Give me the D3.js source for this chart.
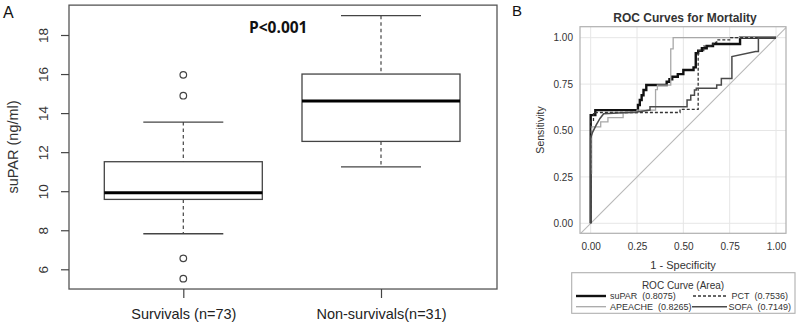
<!DOCTYPE html>
<html><head><meta charset="utf-8">
<script src="https://cdn.jsdelivr.net/npm/d3@7"></script>
<style>body{margin:0;background:#fff}svg{display:block}</style>
</head><body>
<svg id="c" width="800" height="329"></svg>
<script>
// ---------- Panel A data ----------
const groups = ["Survivals (n=73)", "Non-survivals(n=31)"];
const boxLow = [7.82, 11.25];
const boxQ1 = [9.58, 12.55];
const boxMed = [9.92, 14.62];
const boxQ3 = [11.51, 16.0];
const boxHigh = [13.54, 18.99];
const outliers = [[15.96, 14.89, 6.56, 5.52], []];
const yTicksA = [6, 8, 10, 12, 14, 16, 18];

// ---------- Panel B data ----------
const rocNames = ["suPAR", "PCT", "APEACHE", "SOFA"];
const rocAreas = ["(0.8075)", "(0.7536)", "(0.8265)", "(0.7149)"];
const suPAR = [[0,0],[0,0.583],[0.025,0.583],[0.025,0.61],[0.255,0.61],[0.255,0.637],[0.265,0.637],[0.265,0.664],[0.275,0.664],[0.275,0.69],[0.285,0.69],[0.285,0.718],[0.30,0.718],[0.30,0.745],[0.41,0.745],[0.41,0.763],[0.425,0.763],[0.425,0.776],[0.44,0.776],[0.44,0.79],[0.47,0.79],[0.47,0.804],[0.50,0.804],[0.50,0.826],[0.555,0.826],[0.555,0.84],[0.567,0.84],[0.567,0.916],[0.58,0.916],[0.58,0.93],[0.60,0.93],[0.60,0.943],[0.626,0.943],[0.626,0.955],[0.66,0.955],[0.66,0.966],[0.806,0.966],[0.806,1],[1,1]];
const PCT = [[0,0],[0,0.55],[0.015,0.55],[0.015,0.597],[0.482,0.597],[0.482,0.614],[0.58,0.614],[0.58,0.93],[0.61,0.93],[0.61,0.955],[0.66,0.955],[0.66,0.975],[0.68,0.975],[0.68,0.988],[0.75,0.988],[0.75,1],[1,1]];
const APEACHE = [[0,0],[0,0.27],[0.005,0.27],[0.005,0.52],[0.054,0.52],[0.054,0.547],[0.093,0.547],[0.093,0.569],[0.175,0.569],[0.175,0.595],[0.25,0.595],[0.25,0.61],[0.35,0.61],[0.35,0.72],[0.36,0.72],[0.36,0.745],[0.432,0.745],[0.432,0.94],[0.445,0.94],[0.445,1],[1,1]];
const SOFA = [[0,0],[0,0.46],[0.01,0.49],[0.03,0.53],[0.05,0.565],[0.07,0.59],[0.25,0.60],[0.32,0.61],[0.32,0.628],[0.52,0.628],[0.52,0.664],[0.54,0.664],[0.54,0.69],[0.56,0.69],[0.56,0.718],[0.57,0.718],[0.57,0.727],[0.68,0.727],[0.68,0.745],[0.705,0.745],[0.705,0.78],[0.762,0.78],[0.762,0.898],[0.89,0.925],[0.905,0.925],[0.905,1],[1,1]];
const rocTicks = [0, 0.25, 0.5, 0.75, 1];

const svg = d3.select("#c");
const FA = "'Liberation Sans', Arial, sans-serif";

// ================= Panel A =================
const xA = d3.scaleLinear().domain([1, 2]).range([183.3, 381]);
const yA = d3.scaleLinear().domain([6, 18]).range([269.3, 35]);
const frameA = {l: 69, r: 497, t: yA(19.53), b: yA(4.99)};
const gA = svg.append("g");
const dark = "#444";

gA.append("rect").attr("x", frameA.l).attr("y", frameA.t)
  .attr("width", frameA.r - frameA.l).attr("height", frameA.b - frameA.t)
  .attr("fill", "none").attr("stroke", "#555").attr("stroke-width", 1.3);

const axA = gA.append("g").attr("transform", `translate(${frameA.l},0)`)
  .call(d3.axisLeft(yA).tickValues(yTicksA).tickSize(8).tickFormat(d3.format("d")));
axA.select(".domain").remove();
axA.selectAll(".tick line").attr("stroke", dark).attr("stroke-width", 1.2);
axA.selectAll(".tick text").attr("font-family", FA).attr("font-size", 13.5).attr("fill", "#333")
  .attr("text-anchor", "middle").attr("dy", "0.35em")
  .attr("transform", "translate(-26,0) rotate(-90)").attr("x", 0).attr("y", 0);

const axXA = gA.append("g").attr("transform", `translate(0,${frameA.b})`)
  .call(d3.axisBottom(xA).tickValues([1, 2]).tickSize(9).tickFormat((d, i) => groups[i]));
axXA.select(".domain").remove();
axXA.selectAll(".tick line").attr("stroke", dark).attr("stroke-width", 1.2);
axXA.selectAll(".tick text").attr("font-family", FA).attr("font-size", 14.5).attr("fill", "#222")
  .attr("y", 20);

gA.append("text").attr("transform", "translate(18,147) rotate(-90)")
  .attr("text-anchor", "middle").attr("font-family", FA).attr("font-size", 14.5).attr("fill", "#333")
  .text("suPAR (ng/ml)");

const bw = 79, cw = 40;
groups.forEach((g, i) => {
  const cx = xA(i + 1);
  gA.append("line").attr("x1", cx).attr("x2", cx).attr("y1", yA(boxHigh[i])).attr("y2", yA(boxQ3[i]))
    .attr("stroke", dark).attr("stroke-width", 1.2).attr("stroke-dasharray", "3.5,3");
  gA.append("line").attr("x1", cx).attr("x2", cx).attr("y1", yA(boxQ1[i])).attr("y2", yA(boxLow[i]))
    .attr("stroke", dark).attr("stroke-width", 1.2).attr("stroke-dasharray", "3.5,3");
  [boxHigh[i], boxLow[i]].forEach(v => gA.append("line").attr("x1", cx - cw).attr("x2", cx + cw)
    .attr("y1", yA(v)).attr("y2", yA(v)).attr("stroke", dark).attr("stroke-width", 1.3));
  gA.append("rect").attr("x", cx - bw).attr("width", 2 * bw)
    .attr("y", yA(boxQ3[i])).attr("height", yA(boxQ1[i]) - yA(boxQ3[i]))
    .attr("fill", "#fff").attr("stroke", dark).attr("stroke-width", 1.3);
  gA.append("line").attr("x1", cx - bw).attr("x2", cx + bw).attr("y1", yA(boxMed[i])).attr("y2", yA(boxMed[i]))
    .attr("stroke", "#000").attr("stroke-width", 3);
  gA.selectAll(null).data(outliers[i]).enter().append("circle")
    .attr("cx", cx).attr("cy", d => yA(d)).attr("r", 3.3)
    .attr("fill", "none").attr("stroke", dark).attr("stroke-width", 1.2);
});

gA.append("text").attr("x", 249).attr("y", 33).attr("font-family", "'Open Sans', sans-serif")
  .attr("font-weight", "bold").attr("font-size", 15.5).attr("fill", "#111").text("P<0.001");
svg.append("text").attr("x", 3).attr("y", 18).attr("font-family", FA).attr("font-size", 16).attr("fill", "#111").text("A");

// ================= Panel B =================
const xB = d3.scaleLinear().domain([0, 1]).range([590.7, 776]);
const yB = d3.scaleLinear().domain([0, 1]).range([223.3, 37.7]);
const dx0 = xB.invert(580), dx1 = xB.invert(786), dy0 = yB.invert(233.3), dy1 = yB.invert(26.7);
const gB = svg.append("g");
const grid = "#e6e6e6";
rocTicks.forEach(t => {
  gB.append("line").attr("x1", xB(t)).attr("x2", xB(t)).attr("y1", 26.7).attr("y2", 233.3).attr("stroke", grid).attr("stroke-width", 1);
  gB.append("line").attr("y1", yB(t)).attr("y2", yB(t)).attr("x1", 580).attr("x2", 786).attr("stroke", grid).attr("stroke-width", 1);
});
gB.append("line").attr("x1", xB(Math.max(dx0, dy0))).attr("y1", yB(Math.max(dx0, dy0)))
  .attr("x2", xB(Math.min(dx1, dy1))).attr("y2", yB(Math.min(dx1, dy1)))
  .attr("stroke", "#b8b8b8").attr("stroke-width", 1.1);

const line = d3.line().x(d => xB(d[0])).y(d => yB(d[1]));
const styles = {
  SOFA: {c: "#4a4a4a", w: 1.5, d: null},
  PCT: {c: "#333", w: 1.3, d: "3,2"},
  APEACHE: {c: "#a8a8a8", w: 1.3, d: null},
  suPAR: {c: "#111", w: 2.4, d: null}
};
const curves = {suPAR, PCT, APEACHE, SOFA};
["suPAR", "APEACHE", "PCT", "SOFA"].forEach(k => {
  gB.append("path").attr("d", line(curves[k])).attr("fill", "none")
    .attr("stroke", styles[k].c).attr("stroke-width", styles[k].w)
    .attr("stroke-dasharray", styles[k].d);
});

gB.append("rect").attr("x", 580).attr("y", 26.7).attr("width", 206).attr("height", 206.6)
  .attr("fill", "none").attr("stroke", "#b0b0b0").attr("stroke-width", 1.2);

const fmt = d3.format(".2f");
const axYB = gB.append("g").attr("transform", "translate(580,0)")
  .call(d3.axisLeft(yB).tickValues(rocTicks).tickSize(0).tickPadding(7).tickFormat(fmt));
axYB.select(".domain").remove();
axYB.selectAll("text").attr("font-family", FA).attr("font-size", 10).attr("fill", "#333");
const axXB = gB.append("g").attr("transform", "translate(0,233.3)")
  .call(d3.axisBottom(xB).tickValues(rocTicks).tickSize(0).tickPadding(10).tickFormat(fmt));
axXB.select(".domain").remove();
axXB.selectAll("text").attr("font-family", FA).attr("font-size", 10).attr("fill", "#333");

gB.append("text").attr("x", 683).attr("y", 265).attr("text-anchor", "middle").attr("dy", "0.35em")
  .attr("font-family", FA).attr("font-size", 11).attr("fill", "#333").text("1 - Specificity");
gB.append("text").attr("transform", "translate(540,130) rotate(-90)").attr("text-anchor", "middle").attr("dy", "0.35em")
  .attr("font-family", FA).attr("font-size", 10.5).attr("fill", "#333").text("Sensitivity");
gB.append("text").attr("x", 685).attr("y", 18).attr("text-anchor", "middle").attr("dy", "0.35em")
  .attr("font-family", FA).attr("font-weight", "bold").attr("font-size", 12).attr("fill", "#333").text("ROC Curves for Mortality");
svg.append("text").attr("x", 512).attr("y", 16).attr("font-family", FA).attr("font-size", 15).attr("fill", "#111").text("B");

// legend
const lg = gB.append("g");
lg.append("rect").attr("x", 571.7).attr("y", 272.7).attr("width", 223.3).attr("height", 40.6)
  .attr("fill", "#fff").attr("stroke", "#b0b0b0").attr("stroke-width", 1.1);
lg.append("text").attr("x", 683).attr("y", 285).attr("dy", "0.35em").attr("text-anchor", "middle")
  .attr("font-family", FA).attr("font-size", 10).attr("fill", "#333").text("ROC Curve (Area)");
const LF = 9;
const legPos = [
  {k: 0, ly: 296, lx1: 576, lx2: 606, side: "L", tx: 610},
  {k: 1, ly: 296, lx1: 693, lx2: 727, side: "R", rx: 788},
  {k: 2, ly: 306.7, lx1: 576, lx2: 606, side: "L", tx: 610},
  {k: 3, ly: 306.7, lx1: 692, lx2: 727, side: "R", rx: 791}
];
legPos.forEach(p => {
  const nm = rocNames[p.k], s = styles[nm];
  lg.append("line").attr("x1", p.lx1).attr("x2", p.lx2).attr("y1", p.ly).attr("y2", p.ly)
    .attr("stroke", s.c).attr("stroke-width", s.w).attr("stroke-dasharray", s.d);
  if (p.side === "L") {
    const t = lg.append("text").attr("x", p.tx).attr("y", p.ly).attr("dy", "0.35em")
      .attr("font-family", FA).attr("font-size", LF).attr("fill", "#333").text(nm);
    const w = t.node().getComputedTextLength();
    lg.append("text").attr("x", p.tx + w + 5).attr("y", p.ly).attr("dy", "0.35em")
      .attr("font-family", FA).attr("font-size", LF).attr("fill", "#333").text(rocAreas[p.k]);
  } else {
    const v = lg.append("text").attr("x", p.rx).attr("y", p.ly).attr("dy", "0.35em").attr("text-anchor", "end")
      .attr("font-family", FA).attr("font-size", LF).attr("fill", "#333").text(rocAreas[p.k]);
    const w = v.node().getComputedTextLength();
    lg.append("text").attr("x", p.rx - w - 5).attr("y", p.ly).attr("dy", "0.35em").attr("text-anchor", "end")
      .attr("font-family", FA).attr("font-size", LF).attr("fill", "#333").text(nm);
  }
});
</script>
</body></html>
